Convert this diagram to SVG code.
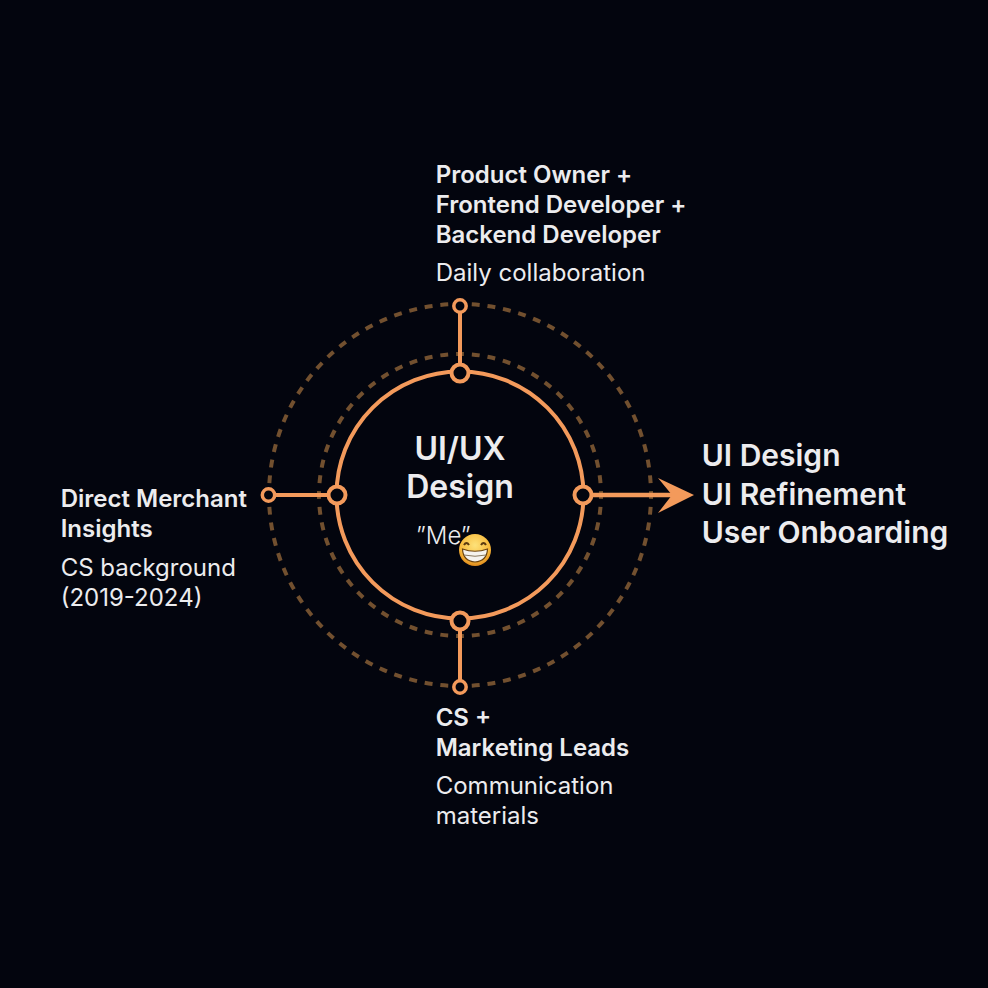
<svg xmlns="http://www.w3.org/2000/svg" width="988" height="988" viewBox="0 0 988 988">
<style>
text{font-family:Inter,"Liberation Sans",sans-serif;fill:#ececee}
.b{font-size:24px;font-weight:600}
.r{font-size:24px;font-weight:380}
.h{font-size:30px;font-weight:600}
.c{font-size:32px;font-weight:600;text-anchor:middle}
.d{fill:none;stroke:#72502f;stroke-width:4;stroke-dasharray:8 8;stroke-dashoffset:4}
.l{stroke:#f39a5b;stroke-width:4;fill:none}
.n{fill:#03050e;stroke:#f39a5b;stroke-width:4}
.s{fill:#03050e;stroke:#f39a5b;stroke-width:3.5}
</style>
<defs><radialGradient id="em" cx="50%" cy="35%" r="65%"><stop offset="0" stop-color="#fde27a"/><stop offset=".7" stop-color="#f8bb3c"/><stop offset="1" stop-color="#e08a1c"/></radialGradient></defs>
<rect width="988" height="988" fill="#03050e"/>
<g id="rings">
<circle class="d" cx="460" cy="495" r="191" pathLength="1216"/>
<circle class="d" cx="460" cy="495" r="141" pathLength="896"/>
<circle class="l" cx="460" cy="495" r="123.5"/>
</g>
<g id="connectors">
<path class="l" d="M460 306V373M460 621V687M268 495H337"/>
<path class="l" style="stroke-width:4.500" d="M583 495H672"/>
<path d="M658 478L694 495L658 513L672 495Z" fill="#f39a5b"/>
</g>
<g id="node-top"><circle class="s" cx="460" cy="306" r="6.200"/><circle class="n" cx="460" cy="373" r="8.500"/>
<text class="b" x="435.700" y="182.700">Product Owner +</text><text class="b" x="435.700" y="212.700">Frontend Developer +</text><text class="b" x="435.700" y="242.700">Backend Developer</text><text class="r" x="435.700" y="280.700">Daily collaboration</text></g>
<g id="node-left"><circle class="s" cx="268.500" cy="495" r="6.200"/><circle class="n" cx="337" cy="495" r="8.500"/>
<text class="b" x="60.700" y="506.500">Direct Merchant</text><text class="b" x="60.700" y="536.500">Insights</text><text class="r" x="60.700" y="575.500">CS background</text><text class="r" x="60.700" y="605.500">(2019-2024)</text></g>
<g id="node-bottom"><circle class="n" cx="460" cy="621" r="8.500"/><circle class="s" cx="460" cy="687" r="6.200"/>
<text class="b" x="435.700" y="725.500">CS +</text><text class="b" x="435.700" y="755.500">Marketing Leads</text><text class="r" x="435.700" y="793.500">Communication</text><text class="r" x="435.700" y="823.500">materials</text></g>
<g id="node-right"><circle class="n" cx="583" cy="495" r="8.500"/>
<text class="h" x="701.700" y="466">UI Design</text><text class="h" x="701.700" y="504.500">UI Refinement</text><text class="h" x="701.700" y="542.500">User Onboarding</text></g>
<g id="center">
<text class="c" x="460" y="459.500">UI/UX</text><text class="c" x="460" y="498">Design</text>
<text x="416" y="543.500" style="font-size:24px;font-weight:300">”Me”</text>
<g id="emoji"><circle cx="475" cy="550" r="16" fill="url(#em)"/>
<path d="M464 545q2.500-4 5-0M481 545q2.500-4 5-0" fill="none" stroke="#5b3a10" stroke-width="2"/>
<path d="M462.500 549q12.500 4.500 25 0q-.5 12-12.500 13q-12-1-12.500-13Z" fill="#f5f3ee" stroke="#6b4310" stroke-width="1.200"/>
<path d="M464 555q11 2.500 22 0" fill="none" stroke="#8a7a60" stroke-width="1"/></g>
</g>
</svg>
